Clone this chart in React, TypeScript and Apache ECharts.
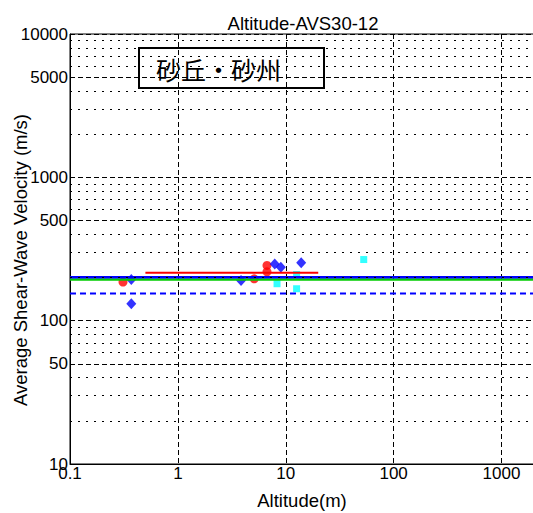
import React, { useEffect, useRef } from "react";
import * as echarts from "echarts";

const xTickLabels = ["0.1", "1", "10", "100", "1000"];
const yTickLabels = ["10", "100", "1000", "10000"];
const yHalfLabels = [50, 500, 5000];
const yMinorValues = [20, 30, 40, 60, 70, 80, 90, 200, 300, 400, 600, 700, 800, 900, 2000, 3000, 4000, 6000, 7000, 8000, 9000];

const redCircles: [number, number][] = [[0.31, 186], [5.1, 196], [6.7, 243], [6.7, 219]];
const blueDiamonds: [number, number][] = [[0.37, 194], [0.37, 131], [3.85, 191], [7.9, 249], [9.0, 236], [13.9, 254]];
const cyanSquares: [number, number][] = [[8.3, 181], [12.6, 210], [12.6, 167], [52.8, 267]];

const blueSolidLine: [number, number][] = [[0.1, 201], [2000, 201]];
const greenLine: [number, number][] = [[0.1, 194], [2000, 194]];
const blueDashedLine: [number, number][] = [[0.1, 155], [2000, 155]];
const redLine: [number, number][] = [[0.5, 216], [20, 216]];

const FONT = "'Liberation Sans', Arial, sans-serif";
const DASH = [5, 3];
const DOT = [2, 6];

export default function App() {
  const ref = useRef<HTMLDivElement>(null);
  useEffect(() => {
    if (!ref.current) return;
    const chart = echarts.init(ref.current, null, { renderer: "svg" });
    const decadeFmt = (v: number) => {
      const l = Math.log10(v);
      const e = Math.round(l);
      if (Math.abs(l - e) > 1e-6) return "";
      return String(10 ** e);
    };
    const gridMarks = [
      ...yMinorValues.map((v) => ({
        yAxis: v,
        lineStyle: { type: DOT as any, color: "#000", width: 1 },
        label: { show: false },
      })),
      ...yHalfLabels.map((v) => ({
        yAxis: v,
        lineStyle: { type: DASH as any, color: "#000", width: 1 },
        label: {
          show: true,
          position: "start" as const,
          formatter: String(v),
          distance: 2,
          color: "#000",
          fontSize: 17,
          fontFamily: FONT,
        },
      })),
    ];
    chart.setOption({
      animation: false,
      backgroundColor: "#fff",
      title: {
        text: "Altitude-AVS30-12",
        left: 298,
        top: 9,
        textAlign: "center",
        textStyle: { fontSize: 18.5, fontWeight: "normal", color: "#000", fontFamily: FONT },
      },
      grid: {
        left: 70,
        right: -1,
        top: 34,
        bottom: 49,
        containLabel: false,
        outerBoundsMode: "none",
        show: true,
        borderColor: "#000",
        borderWidth: 1,
        backgroundColor: "transparent",
      },
      xAxis: {
        type: "log",
        logBase: 10,
        min: 0.1,
        max: 2000,
        name: "Altitude(m)",
        nameLocation: "middle",
        nameGap: 27,
        nameMoveOverlap: false,
        nameTextStyle: { fontSize: 18.5, color: "#000", fontFamily: FONT },
        axisLine: { show: true, lineStyle: { color: "#000" } },
        axisTick: { show: false },
        axisLabel: {
          color: "#000",
          fontSize: 17,
          fontFamily: FONT,
          margin: 1,
          showMaxLabel: false,
          formatter: (v: number) => {
            const s = decadeFmt(v);
            return xTickLabels.includes(s) ? s : "";
          },
        },
        splitLine: { show: true, lineStyle: { type: DASH, color: "#000", width: 1 } },
      },
      yAxis: {
        type: "log",
        logBase: 10,
        min: 10,
        max: 10000,
        name: "Average Shear-Wave Velocity (m/s)",
        nameLocation: "middle",
        nameGap: 40,
        nameMoveOverlap: false,
        nameTextStyle: { fontSize: 18.5, color: "#000", fontFamily: FONT, padding: [0, 22, 0, 0] },
        axisLine: { show: true, lineStyle: { color: "#000" } },
        axisTick: { show: false },
        axisLabel: {
          color: "#000",
          fontSize: 17,
          fontFamily: FONT,
          margin: 2,
          formatter: (v: number) => {
            const s = decadeFmt(v);
            return yTickLabels.includes(s) ? s : "";
          },
        },
        splitLine: { show: true, lineStyle: { type: DASH, color: "#000", width: 1 } },
      },
      series: [
        {
          type: "line",
          data: [],
          silent: true,
          z: 1,
          markLine: { silent: true, symbol: ["none", "none"], animation: false, data: gridMarks },
        },
        { type: "scatter", data: redCircles, symbol: "circle", symbolSize: 9, itemStyle: { color: "#f00" }, z: 3 },
        { type: "scatter", data: blueDiamonds, symbol: "diamond", symbolSize: [10, 11], itemStyle: { color: "#00f" }, z: 3 },
        { type: "scatter", data: cyanSquares, symbol: "rect", symbolSize: 7, itemStyle: { color: "#0ff" }, z: 3 },
        { type: "line", data: redLine, symbol: "none", lineStyle: { color: "#f00", width: 2 }, z: 4 },
        { type: "line", data: blueDashedLine, symbol: "none", lineStyle: { color: "#00f", width: 2, type: [6, 4] }, z: 4 },
        { type: "line", data: greenLine, symbol: "none", lineStyle: { color: "#0c0", width: 2.5 }, z: 4 },
        { type: "line", data: blueSolidLine, symbol: "none", lineStyle: { color: "#00f", width: 2.5 }, z: 4 },
      ],
      graphic: [
        {
          type: "group",
          left: 138,
          top: 47,
          z: 10,
          children: [
            { type: "rect", shape: { x: 0, y: 0, width: 185, height: 40 }, style: { fill: "#fff", stroke: "#000", lineWidth: 2 } },
            {
              type: "text",
              x: 17,
              y: 21,
              style: { text: "砂丘・砂州", fontSize: 25, fill: "#000", fontFamily: "'Noto Sans CJK JP', sans-serif", verticalAlign: "middle" },
            },
          ],
        },
      ],
    });
    return () => chart.dispose();
  }, []);
  return <div ref={ref} style={{ position: "absolute", left: 0, top: 0, width: 533, height: 513 }} />;
}
